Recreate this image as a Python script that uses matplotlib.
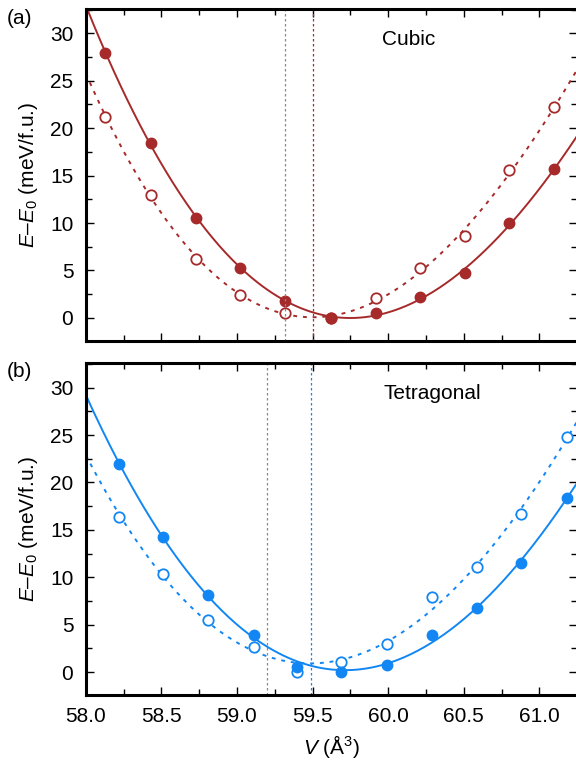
import numpy as np
import matplotlib
matplotlib.use("Agg")
import matplotlib.pyplot as plt
from matplotlib.ticker import MultipleLocator, NullFormatter

plt.rcParams['font.family'] = ['Liberation Sans', 'DejaVu Sans']
plt.rcParams['mathtext.fontset'] = 'custom'
plt.rcParams['mathtext.rm'] = 'Liberation Sans'
plt.rcParams['mathtext.it'] = 'Liberation Sans:italic'
plt.rcParams['font.size'] = 15

# cubic phase: volumes (A^3) and energies (meV/f.u.)
vol_cubic = [58.13, 58.43, 58.73, 59.02, 59.32, 59.62, 59.92, 60.21, 60.51, 60.80, 61.10]
e_cubic_filled = [27.9, 18.4, 10.55, 5.25, 1.8, 0.0, 0.5, 2.15, 4.75, 10.0, 15.7]
e_cubic_open = [21.2, 13.0, 6.2, 2.4, 0.5, 0.0, 2.05, 5.25, 8.6, 15.55, 22.2]
vref_cubic = [59.32, 59.50]

# tetragonal phase
vol_tet = [58.22, 58.51, 58.81, 59.11, 59.40, 59.69, 59.99, 60.29, 60.59, 60.88, 61.18]
e_tet_filled = [21.9, 14.3, 8.15, 3.95, 0.55, 0.05, 0.75, 3.9, 6.75, 11.5, 18.4]
e_tet_open = [16.4, 10.4, 5.5, 2.7, 0.0, 1.05, 3.0, 7.95, 11.1, 16.7, 24.8]
vref_tet = [59.20, 59.49]

red = '#a62a2a'
blue = '#1287f3'
xmin, xmax = 58.0, 61.25

fig = plt.figure(figsize=(5.76, 7.62), dpi=100)
ax_a = fig.add_axes([0.149, 0.553, 0.853, 0.435])
ax_b = fig.add_axes([0.149, 0.088, 0.853, 0.435])


def draw_panel(ax, vol, e_full, e_open, vref, color, title, tx, ty):
    v = np.linspace(xmin, xmax, 300)
    # third-order polynomial fits through the computed points
    fit_full = np.polyval(np.polyfit(vol, e_full, 3), v)
    fit_open = np.polyval(np.polyfit(vol, e_open, 3), v)
    ax.plot(v, fit_full, '-', color=color, lw=1.4)
    ax.plot(v, fit_open, color=color, lw=1.4, ls=(0, (2, 3)))
    ax.plot(vol, e_open, 'o', ms=7.5, mfc='white', mec=color, mew=1.3, ls='none')
    ax.plot(vol, e_full, 'o', ms=7.5, color=color, ls='none')
    ax.axvline(vref[0], color='#888888', lw=0.9, ls=(0, (2, 2)))
    ax.axvline(vref[1], color=color, lw=0.9, ls=(0, (2, 2)))
    ax.text(tx, ty, title, transform=ax.transAxes, ha='center', va='center', fontsize=15)
    ax.set_xlim(xmin, xmax)
    ax.set_ylim(-2.4, 32.55)
    ax.xaxis.set_major_locator(MultipleLocator(0.5))
    ax.xaxis.set_minor_locator(MultipleLocator(0.25))
    ax.yaxis.set_major_locator(MultipleLocator(5))
    ax.yaxis.set_minor_locator(MultipleLocator(2.5))
    ax.tick_params(which='both', direction='in', top=True, right=True, width=1.0)
    ax.tick_params(which='major', length=6, labelsize=15, pad=9)
    ax.tick_params(which='minor', length=4.5)
    for s in ax.spines.values():
        s.set_linewidth(2.2)
    ax.set_ylabel(r'$E$–$E_0$ (meV/f.u.)', fontsize=15, labelpad=7)


draw_panel(ax_a, vol_cubic, e_cubic_filled, e_cubic_open, vref_cubic, red, 'Cubic', 0.657, 0.907)
draw_panel(ax_b, vol_tet, e_tet_filled, e_tet_open, vref_tet, blue, 'Tetragonal', 0.706, 0.91)

ax_a.xaxis.set_major_formatter(NullFormatter())
ax_b.set_xticks([58.0, 58.5, 59.0, 59.5, 60.0, 60.5, 61.0])
ax_b.set_xticklabels(['58.0', '58.5', '59.0', '59.5', '60.0', '60.5', '61.0'])
ax_b.set_xlabel(r'$V$ (Å$^3$)', fontsize=15, labelpad=5)

fig.text(0.033, 0.976, '(a)', ha='center', va='center', fontsize=15)
fig.text(0.033, 0.512, '(b)', ha='center', va='center', fontsize=15)

fig.savefig('out.png', dpi=100)
